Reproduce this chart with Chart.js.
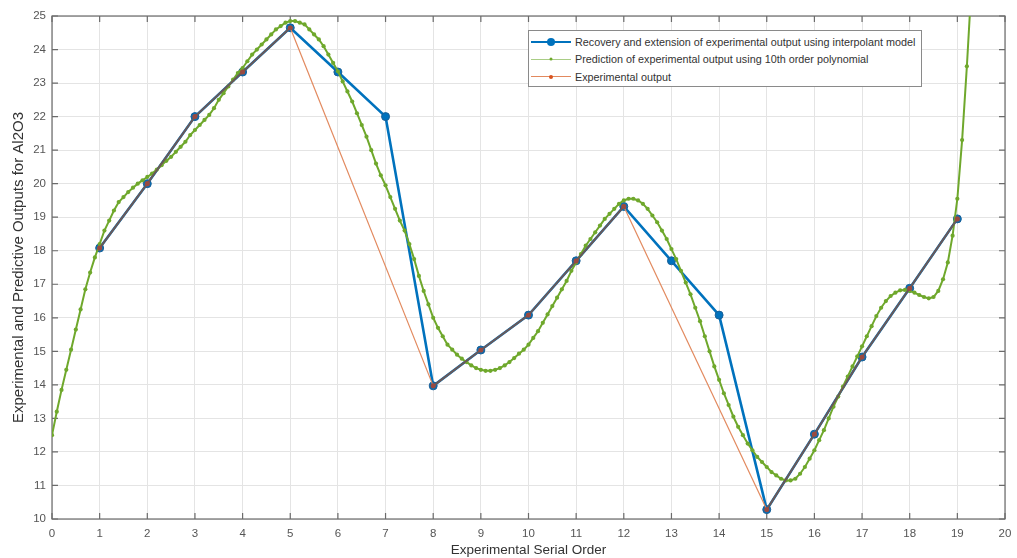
<!DOCTYPE html>
<html>
<head>
<meta charset="utf-8">
<script src="https://cdn.jsdelivr.net/npm/chart.js@4.4.0/dist/chart.umd.min.js"></script>
<style>
  body { margin: 0; background: #fff; }
  #wrap { position: relative; width: 1017px; height: 558px; }
  #legendBox {
    position: absolute; left: 528px; top: 30px; width: 394px; height: 57px;
    border: 1px solid #8a8a8a; background: #fff; box-sizing: border-box;
    font-family: "Liberation Sans", Arial, sans-serif; font-size: 10.8px; color: #333;
    padding-top: 2px; white-space: nowrap;
  }
  .row { height: 17.5px; display: flex; align-items: center; }
  .sample { position: relative; width: 40px; height: 10px; margin: 0 4px 0 2px; }
  .sample .ln { position: absolute; left: 0; right: 0; top: 50%; }
  .sample .mk { position: absolute; left: 50%; top: 50%; border-radius: 50%; transform: translate(-50%, -50%); }
</style>
</head>
<body>
<div id="wrap">
  <canvas id="polyChart"></canvas>
  <div id="legendBox"></div>
</div>
<script>
// serial order 1..19, interpolant model recovery (blue)
const serialOrder = [1, 2, 3, 4, 5, 6, 7, 8, 9, 10, 11, 12, 13, 14, 15, 16, 17, 18, 19];
const interpolantOutput = [18.08, 20.0, 22.0, 23.33, 24.65, 23.33, 22.0, 13.97, 15.04, 16.08,
                           17.7, 19.32, 17.7, 16.08, 10.28, 12.53, 14.83, 16.88, 18.95];

// experimental output (orange), runs 6,7,13,14 missing
const experimentalOrder = [1, 2, 3, 4, 5, 8, 9, 10, 11, 12, 15, 16, 17, 18, 19];
const experimentalOutput = [18.08, 20.0, 22.0, 23.33, 24.65, 13.97, 15.04, 16.08, 17.7, 19.32,
                            10.28, 12.53, 14.83, 16.88, 18.95];

// 10th order polynomial, sampled every 0.1 from 0 (green)
const polyStep = 0.1;
const polyOutput = [
  12.5, 13.2, 13.85, 14.45, 15.05, 15.65, 16.25, 16.85, 17.35, 17.8,
  18.2, 18.6, 18.9, 19.2, 19.45, 19.6, 19.75, 19.88, 20.0, 20.1,
  20.2, 20.3, 20.42, 20.55, 20.68, 20.8, 20.95, 21.1, 21.25, 21.45,
  21.6, 21.75, 21.9, 22.05, 22.25, 22.5, 22.7, 22.9, 23.1, 23.3,
  23.45, 23.65, 23.85, 24.0, 24.15, 24.3, 24.45, 24.6, 24.7, 24.8,
  24.85, 24.85, 24.8, 24.75, 24.6, 24.45, 24.3, 24.1, 23.85, 23.6,
  23.35, 23.05, 22.75, 22.45, 22.1, 21.75, 21.4, 21.0, 20.6, 20.25,
  19.95, 19.6, 19.25, 18.9, 18.6, 18.2, 17.75, 17.25, 16.8, 16.4,
  16.0, 15.7, 15.45, 15.2, 15.05, 14.9, 14.78, 14.68, 14.58, 14.5,
  14.45, 14.42, 14.42, 14.45, 14.5, 14.58, 14.68, 14.8, 14.93, 15.05,
  15.2, 15.4, 15.6, 15.85, 16.1, 16.35, 16.6, 16.85, 17.1, 17.4,
  17.65, 17.9, 18.15, 18.35, 18.55, 18.75, 18.95, 19.1, 19.25, 19.4,
  19.5, 19.55, 19.55, 19.5, 19.4, 19.25, 19.05, 18.85, 18.6, 18.35,
  18.05, 17.75, 17.4, 17.05, 16.7, 16.3, 15.9, 15.45, 15.0, 14.55,
  14.15, 13.75, 13.4, 13.05, 12.75, 12.5, 12.25, 12.05, 11.85, 11.7,
  11.55, 11.4, 11.3, 11.2, 11.15, 11.15, 11.2, 11.35, 11.55, 11.8,
  12.05, 12.35, 12.65, 13.0, 13.35, 13.65, 13.95, 14.25, 14.55, 14.85,
  15.15, 15.45, 15.75, 16.05, 16.3, 16.5, 16.65, 16.75, 16.82, 16.83,
  16.8, 16.75, 16.68, 16.62, 16.58, 16.62, 16.8, 17.15, 17.65, 18.45,
  19.55, 21.3, 23.5, 26.0
];

const xTicks = [0, 20];
const yTicks = [10, 25];

const BLUE = '#0072BD';
const GREEN = '#6fa82c';
const ORANGE = '#E2895E';
const OVERLAP = '#6a5858';

function toPoints(xs, ys) {
  return xs.map((x, i) => ({x: x, y: ys[i]}));
}

// box round the plot and inward ticks, like the matlab axes
const boxTicks = {
  id: 'boxTicks',
  beforeDatasetsDraw(chart) {
    const {ctx, chartArea: a, scales} = chart;
    ctx.save();
    ctx.strokeStyle = '#6b6b6b';
    ctx.lineWidth = 1.2;
    ctx.strokeRect(a.left, a.top, a.right - a.left, a.bottom - a.top);
    ctx.beginPath();
    scales.x.ticks.forEach(t => {
      const px = scales.x.getPixelForValue(t.value);
      ctx.moveTo(px, a.bottom); ctx.lineTo(px, a.bottom - 6);
      ctx.moveTo(px, a.top); ctx.lineTo(px, a.top + 6);
    });
    scales.y.ticks.forEach(t => {
      const py = scales.y.getPixelForValue(t.value);
      ctx.moveTo(a.left, py); ctx.lineTo(a.left + 6, py);
      ctx.moveTo(a.right, py); ctx.lineTo(a.right - 6, py);
    });
    ctx.stroke();
    ctx.restore();
  }
};

const ctx = document.getElementById('polyChart').getContext('2d');
const polyChart = new Chart(ctx, {
  type: 'line',
  data: {
    datasets: [
      {
        label: 'Recovery and extension of experimental output using interpolant model',
        data: toPoints(serialOrder, interpolantOutput),
        borderColor: BLUE,
        backgroundColor: BLUE,
        borderWidth: 2.6,
        pointRadius: 4,
        pointBorderColor: '#1a5f96',
        pointBorderWidth: 1,
        order: 3
      },
      {
        label: 'Prediction of experimental output using 10th order polynomial',
        data: polyOutput.map((v, i) => ({x: i * polyStep, y: v})),
        borderColor: GREEN,
        backgroundColor: GREEN,
        borderWidth: 2,
        pointRadius: 2.1,
        pointBorderWidth: 0,
        order: 2
      },
      {
        label: 'Experimental output',
        data: toPoints(experimentalOrder, experimentalOutput),
        borderColor: ORANGE,
        backgroundColor: '#9a4a40',
        borderWidth: 1.2,
        pointRadius: 2.6,
        pointBorderWidth: 0,
        segment: {
          borderColor: c => (c.p1.parsed.x - c.p0.parsed.x === 1 ? OVERLAP : ORANGE),
          borderWidth: c => (c.p1.parsed.x - c.p0.parsed.x === 1 ? 2 : 1.2)
        },
        order: 1
      }
    ]
  },
  options: {
    responsive: true,
    maintainAspectRatio: false,
    animation: false,
    layout: {padding: {top: 16, right: 12, left: 0, bottom: 0}},
    plugins: {
      legend: {display: false},
      tooltip: {enabled: false}
    },
    scales: {
      x: {
        type: 'linear',
        min: xTicks[0],
        max: xTicks[1],
        ticks: {stepSize: 1, color: '#555', padding: 8,
                font: {family: '"Liberation Sans", Arial', size: 11.5}},
        grid: {color: '#e4e4e4', drawTicks: false},
        border: {display: false},
        title: {display: true, text: 'Experimental Serial Order', color: '#333',
                padding: {top: 0, bottom: 0},
                font: {family: '"Liberation Sans", Arial', size: 13.5}},
        afterFit: s => { s.height = 39; s.paddingLeft = 0; s.paddingRight = 0; }
      },
      y: {
        type: 'linear',
        min: yTicks[0],
        max: yTicks[1],
        ticks: {stepSize: 1, color: '#555', padding: 6,
                font: {family: '"Liberation Sans", Arial', size: 11.5}},
        grid: {color: '#e4e4e4', drawTicks: false},
        border: {display: false},
        title: {display: true, text: 'Experimental and Predictive Outputs for Al2O3', color: '#333',
                padding: {top: 10, bottom: 0},
                font: {family: '"Liberation Sans", Arial', size: 15}},
        afterFit: s => { s.width = 52; s.paddingTop = 0; s.paddingBottom = 0; }
      }
    }
  },
  plugins: [boxTicks]
});

// html legend in the box at the top right
function buildLegend() {
  const box = document.getElementById('legendBox');
  const looks = [
    {line: BLUE, w: 2.5, mk: BLUE, r: 8},
    {line: '#a9cd85', w: 1, mk: GREEN, r: 3},
    {line: ORANGE, w: 1, mk: '#d9531e', r: 4}
  ];
  polyChart.data.datasets.forEach((ds, i) => {
    const l = looks[i];
    const row = document.createElement('div');
    row.className = 'row';
    row.innerHTML = `<span class="sample"><span class="ln" style="border-top:${l.w}px solid ${l.line};margin-top:-${l.w / 2}px"></span>` +
      `<span class="mk" style="width:${l.r}px;height:${l.r}px;background:${l.mk}"></span></span><span>${ds.label}</span>`;
    box.appendChild(row);
  });
}
buildLegend();
</script>
</body>
</html>
